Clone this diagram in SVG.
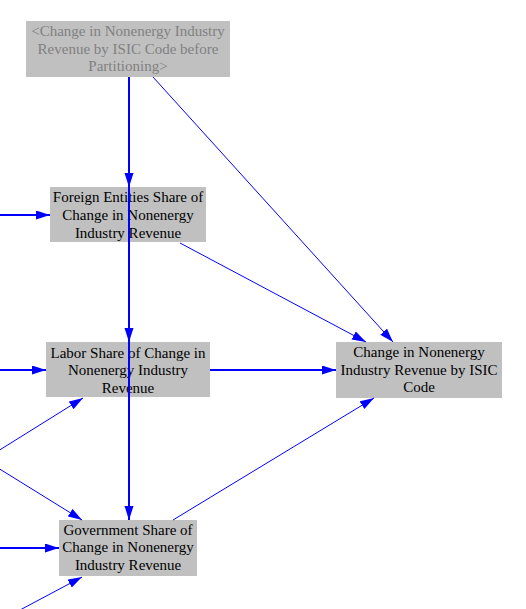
<svg xmlns="http://www.w3.org/2000/svg" width="526" height="609" viewBox="0 0 526 609">
<style>
.node rect{fill:#c0c0c0;}
.node text{font-family:"Liberation Serif","Times New Roman",serif;font-size:15px;fill:#000;text-anchor:middle;}
.node.shadow text{fill:#808080;}
.links line{stroke:#0000ff;fill:none;marker-end:url(#arr);}
.links .s{stroke-width:2;}
.links .d{stroke-width:1;}
</style>
<defs>
<marker id="arr" markerUnits="userSpaceOnUse" markerWidth="15" markerHeight="10" refX="14" refY="4.5" orient="auto" viewBox="0 0 15 10">
<path d="M0,0 L14,4.5 L0,9 z" fill="#0000ff"/>
</marker>
</defs>
<rect width="526" height="609" fill="#ffffff"/>
<g id="n_before" class="node shadow">
<rect x="26" y="21" width="204" height="56"/>
<text x="128" y="36">&lt;Change in Nonenergy Industry</text>
<text x="128" y="53.5">Revenue by ISIC Code before</text>
<text x="128" y="71">Partitioning&gt;</text>
</g>
<g id="n_foreign" class="node">
<rect x="50" y="187" width="156" height="55"/>
<text x="128" y="202">Foreign Entities Share of</text>
<text x="128" y="220">Change in Nonenergy</text>
<text x="128" y="238">Industry Revenue</text>
</g>
<g id="n_labor" class="node">
<rect x="46" y="342" width="164" height="55"/>
<text x="128" y="357.5">Labor Share of Change in</text>
<text x="128" y="375">Nonenergy Industry</text>
<text x="128" y="392.5">Revenue</text>
</g>
<g id="n_gov" class="node">
<rect x="59" y="520" width="138" height="56"/>
<text x="128" y="534.5">Government Share of</text>
<text x="128" y="552">Change in Nonenergy</text>
<text x="128" y="570">Industry Revenue</text>
</g>
<g id="n_target" class="node">
<rect x="336" y="342" width="166" height="56"/>
<text x="419" y="357">Change in Nonenergy</text>
<text x="419" y="374.5">Industry Revenue by ISIC</text>
<text x="419" y="392">Code</text>
</g>
<g id="connectors" class="links">
<line class="s" x1="129" y1="77" x2="129" y2="187"/>
<line class="s" x1="129" y1="77" x2="129" y2="342"/>
<line class="s" x1="129" y1="77" x2="129" y2="520"/>
<line class="d" x1="153" y1="77" x2="393" y2="342"/>
<line class="d" x1="180" y1="243" x2="366" y2="342"/>
<line class="s" x1="210" y1="370" x2="336" y2="370"/>
<line class="d" x1="173" y1="520" x2="374" y2="398"/>
<line class="s" x1="0" y1="215" x2="50" y2="215"/>
<line class="s" x1="0" y1="370" x2="46" y2="370"/>
<line class="s" x1="0" y1="548" x2="59" y2="548"/>
<line class="d" x1="-2" y1="451" x2="83" y2="398"/>
<line class="d" x1="-2" y1="468" x2="82" y2="520"/>
<line class="d" x1="20" y1="610" x2="82" y2="577"/>
</g>
</svg>
